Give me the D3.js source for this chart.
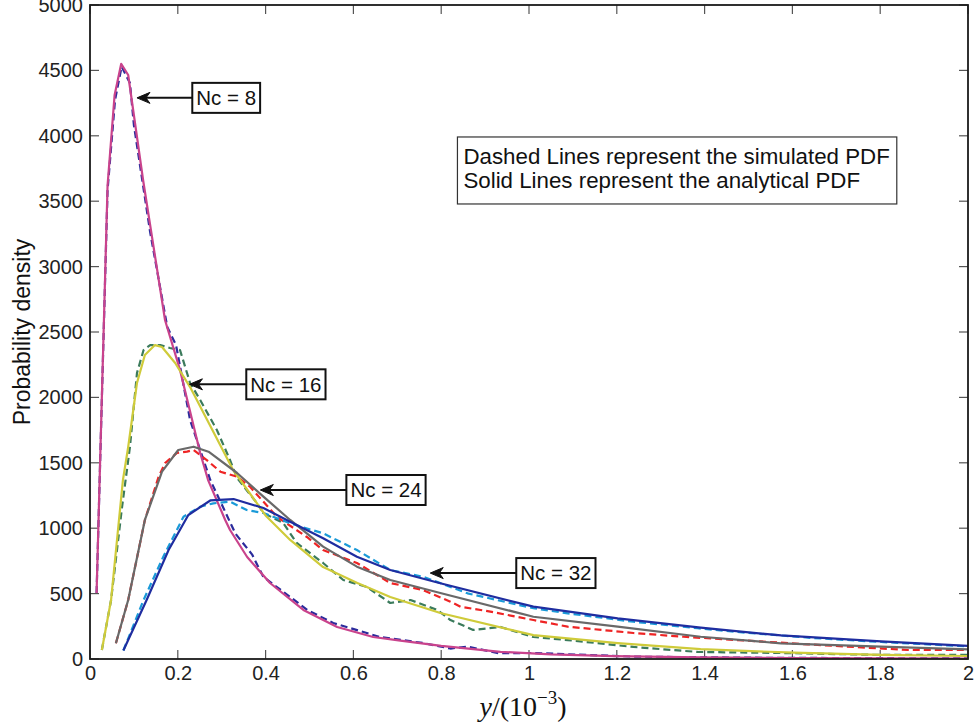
<!DOCTYPE html>
<html><head><meta charset="utf-8">
<script src="https://cdn.jsdelivr.net/npm/d3@7"></script>
<style>body{margin:0;background:#fff}svg{display:block}</style>
</head><body><svg id="c" width="980" height="728"></svg>
<script>
// ---------- data ----------
const xTicks = [0,0.2,0.4,0.6,0.8,1,1.2,1.4,1.6,1.8,2];
const xTickLabels = ["0","0.2","0.4","0.6","0.8","1","1.2","1.4","1.6","1.8","2"];
const yTicks = [0,500,1000,1500,2000,2500,3000,3500,4000,4500,5000];
const yTickLabels = ["0","500","1000","1500","2000","2500","3000","3500","4000","4500","5000"];

// Nc = 8
const nc8AnaX = [0.015,0.040,0.056,0.071,0.087,0.121,0.171,0.205,0.251,0.269,0.308,0.319,0.358,0.410,0.486,0.563,0.645,0.707,0.800,0.935,1.050,1.193,1.391,1.600,2.0];
const nc8AnaY = [505,3620,4310,4550,4465,3660,2590,2210,1575,1368,1063,986,780,581,375,245,168,140,100,55,35,22,12,7,3];
const nc8SimX = [0.015,0.040,0.057,0.072,0.091,0.100,0.119,0.137,0.176,0.196,0.228,0.274,0.290,0.331,0.369,0.395,0.456,0.495,0.554,0.661,0.759,0.821,0.860,0.930,1.010,1.238,1.500,2.0];
const nc8SimY = [505,3585,4273,4528,4403,4082,3662,3264,2538,2400,1827,1368,1254,960,800,627,474,375,275,168,122,80,95,45,46,18,10,4];
// Nc = 16
const nc16AnaX = [0.027,0.048,0.075,0.087,0.107,0.125,0.148,0.164,0.194,0.228,0.267,0.326,0.401,0.456,0.531,0.609,0.684,0.798,1.010,1.202,1.391,1.603,1.802,2.0];
const nc16AnaY = [69,451,1368,1621,2110,2324,2400,2385,2263,2079,1827,1445,1093,910,703,581,474,352,183,122,75,48,31,23];
const nc16SimX = [0.027,0.048,0.073,0.091,0.107,0.122,0.137,0.160,0.182,0.205,0.228,0.251,0.289,0.319,0.335,0.380,0.395,0.440,0.471,0.531,0.577,0.631,0.684,0.730,0.791,0.821,0.873,0.935,1.010,1.088,1.238,1.384,1.574,1.802,2.0];
const nc16SimY = [69,451,1162,1621,2186,2362,2400,2400,2378,2362,2110,1980,1751,1521,1384,1193,1116,1040,887,734,604,550,428,451,375,298,222,245,168,145,92,54,46,31,31];
// Nc = 24
const nc24AnaX = [0.059,0.087,0.125,0.164,0.201,0.236,0.270,0.335,0.395,0.456,0.531,0.608,0.684,0.798,1.010,1.202,1.391,1.574,1.802,2.0];
const nc24AnaY = [120,451,1063,1432,1598,1623,1585,1422,1241,1063,859,706,604,505,323,247,170,120,94,74];
const nc24SimX = [0.059,0.087,0.125,0.156,0.171,0.198,0.221,0.236,0.266,0.297,0.335,0.365,0.426,0.494,0.531,0.608,0.684,0.759,0.821,0.844,0.912,1.010,1.088,1.238,1.352,1.635,1.863,2.0];
const nc24SimY = [120,451,1063,1391,1498,1575,1585,1598,1521,1432,1394,1315,1086,933,833,734,581,527,438,400,362,298,247,199,170,112,69,69];
// Nc = 32
const nc32AnaX = [0.076,0.129,0.179,0.224,0.274,0.327,0.395,0.456,0.531,0.608,0.684,0.798,1.010,1.202,1.391,1.574,1.802,2.0];
const nc32AnaY = [65,451,833,1101,1212,1223,1154,1050,923,782,680,579,400,311,240,180,135,100];
const nc32SimX = [0.076,0.122,0.167,0.213,0.251,0.281,0.319,0.357,0.395,0.456,0.531,0.608,0.684,0.759,0.860,1.010,1.088,1.238,1.384,1.498,1.649,1.802,2.0];
const nc32SimY = [65,451,782,1088,1164,1190,1203,1139,1116,1037,961,833,680,629,502,388,349,285,235,200,160,130,96];

const seriesNames = ["Nc8 sim","Nc16 sim","Nc24 sim","Nc32 sim","Nc8 ana","Nc16 ana","Nc24 ana","Nc32 ana"];
const seriesX = [nc8SimX,nc16SimX,nc24SimX,nc32SimX,nc8AnaX,nc16AnaX,nc24AnaX,nc32AnaX];
const seriesY = [nc8SimY,nc16SimY,nc24SimY,nc32SimY,nc8AnaY,nc16AnaY,nc24AnaY,nc32AnaY];
const seriesColors = ["#2b2b9c","#3b7b5c","#ee2424","#1a9ad8","#c9438c","#cfcb3a","#696969","#1f2da0"];
const seriesDashed = [true,true,true,true,false,false,false,false];

const annotTexts = ["Nc = 8","Nc = 16","Nc = 24","Nc = 32"];
const annotTipX = [0.107,0.2265,0.388,0.775];
const annotTipY = [4290,2100,1292,657];
const annotBoxX = [0.233,0.356,0.584,0.971];

const noteLines = ["Dashed Lines represent the simulated PDF","Solid Lines represent the analytical PDF"];
const noteX = 0.837, noteTopY = 3991;

// ---------- layout ----------
const L = 90, R = 968, T = 5, B = 659;
const svg = d3.select("#c");
const x = d3.scaleLinear().domain([0,2]).range([L,R]);
const y = d3.scaleLinear().domain([0,5000]).range([B,T]);
const sans = "'Liberation Sans', Arial, Helvetica, sans-serif";

svg.append("rect").attr("width",980).attr("height",728).attr("fill","#fff");

svg.append("defs").append("clipPath").attr("id","clip")
  .append("rect").attr("x",L).attr("y",T).attr("width",R-L).attr("height",B-T);

// ticks (all four sides, inward)
const tk = 9, tickCol = "#555";
const gT = svg.append("g").attr("stroke",tickCol).attr("stroke-width",1.2);
xTicks.forEach(v => {
  gT.append("line").attr("x1",x(v)).attr("x2",x(v)).attr("y1",B).attr("y2",B-tk);
  gT.append("line").attr("x1",x(v)).attr("x2",x(v)).attr("y1",T).attr("y2",T+tk);
});
yTicks.forEach(v => {
  gT.append("line").attr("x1",L).attr("x2",L+tk).attr("y1",y(v)).attr("y2",y(v));
  gT.append("line").attr("x1",R).attr("x2",R-tk).attr("y1",y(v)).attr("y2",y(v));
});

// bottom / left axes labels via d3 axes
const xAxis = d3.axisBottom(x).tickValues(xTicks).tickFormat((d,i)=>xTickLabels[i]).tickSize(0).tickPadding(7);
const gx = svg.append("g").attr("transform",`translate(0,${B})`).call(xAxis);
gx.select(".domain").remove();
gx.selectAll("text").attr("font-family",sans).attr("font-size",20).attr("fill","#222");

const yAxis = d3.axisLeft(y).tickValues(yTicks).tickFormat((d,i)=>yTickLabels[i]).tickSize(0).tickPadding(7);
const gy = svg.append("g").attr("transform",`translate(${L},0)`).call(yAxis);
gy.select(".domain").remove();
gy.selectAll("text").attr("font-family",sans).attr("font-size",20).attr("fill","#222");

// curves
const line = d3.line().x(d=>x(d[0])).y(d=>y(d[1]));
const gc = svg.append("g").attr("clip-path","url(#clip)");
seriesX.forEach((xs,i) => {
  const pts = xs.map((v,j)=>[v, seriesY[i][j]]);
  gc.append("path").datum(pts).attr("d",line)
    .attr("fill","none").attr("stroke",seriesColors[i]).attr("stroke-width",2.2)
    .attr("stroke-linejoin","round")
    .attr("stroke-dasharray",seriesDashed[i] ? "7,4" : null)
    .attr("data-name",seriesNames[i]);
});

// frame
svg.append("rect").attr("x",L).attr("y",T).attr("width",R-L).attr("height",B-T)
  .attr("fill","none").attr("stroke","#1a1a1a").attr("stroke-width",1.8);

// annotations
annotTexts.forEach((t,i) => {
  const tx = x(annotTipX[i]), ty = y(annotTipY[i]);
  const bx = x(annotBoxX[i]);
  const g = svg.append("g");
  const txt = g.append("text").attr("font-family",sans).attr("font-size",20.5).attr("fill","#111")
    .attr("x",bx+4).attr("y",ty).attr("dy","0.36em").text(t);
  const w = txt.node().getComputedTextLength();
  g.insert("rect","text").attr("x",bx).attr("y",ty-15).attr("width",w+8).attr("height",30)
    .attr("fill","#fff").attr("stroke","#111").attr("stroke-width",2);
  g.append("line").attr("x1",bx).attr("y1",ty).attr("x2",tx+9).attr("y2",ty)
    .attr("stroke","#111").attr("stroke-width",2);
  g.append("path").attr("d",`M${tx},${ty} L${tx+13},${ty-5.5} L${tx+9},${ty} L${tx+13},${ty+5.5} Z`)
    .attr("fill","#111").attr("stroke","#111").attr("stroke-width",1);
});

// note box
const nx = x(noteX), ny = y(noteTopY);
const gn = svg.append("g");
const nt = noteLines.map((s,i)=> gn.append("text").attr("font-family",sans).attr("font-size",22.3).attr("fill","#111")
  .attr("x",nx+6).attr("y",ny+27+i*24).text(s));
const nw = d3.max(nt, t=>t.node().getComputedTextLength());
gn.insert("rect","text").attr("x",nx).attr("y",ny).attr("width",nw+13).attr("height",67)
  .attr("fill","#fff").attr("stroke","#333").attr("stroke-width",1.2);

// axis titles
svg.append("text").attr("transform",`translate(30,${(T+B)/2}) rotate(-90)`)
  .attr("text-anchor","middle").attr("font-family",sans).attr("font-size",23).attr("fill","#111")
  .text("Probability density");

const xl = svg.append("text").attr("x",x(1)-6).attr("y",716).attr("text-anchor","middle")
  .attr("font-family","'Liberation Serif','DejaVu Serif',serif").attr("font-size",28).attr("fill","#111");
xl.append("tspan").attr("font-style","italic").text("y");
xl.append("tspan").text("/(10");
xl.append("tspan").attr("font-size",19).attr("dy",-12).text("\u22123");
xl.append("tspan").attr("dy",12).text(")");
</script></body></html>
